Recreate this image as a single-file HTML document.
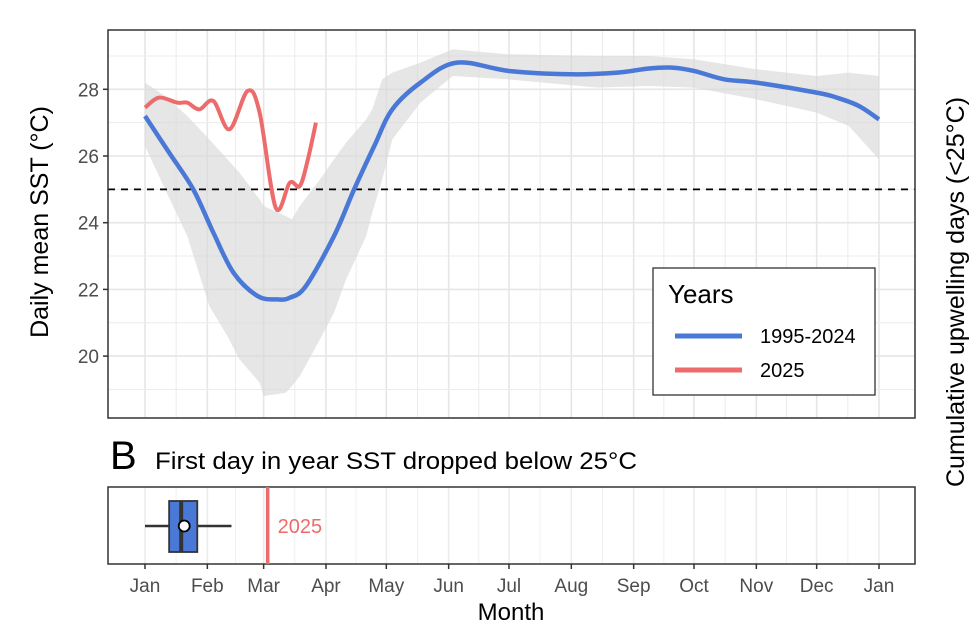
<!DOCTYPE html>
<html><head><meta charset="utf-8">
<style>
body{margin:0;background:#fff;}
svg{display:block;font-family:"Liberation Sans",Arial,sans-serif;}
</style></head>
<body>
<svg id="c" width="978" height="634" viewBox="0 0 978 634"></svg>
<script>
const monthLabels=["Jan","Feb","Mar","Apr","May","Jun","Jul","Aug","Sep","Oct","Nov","Dec","Jan"];
const monthDays=[0,31,59,90,120,151,181,212,243,273,304,334,365];
const yTicks=[20,22,24,26,28];
const blueDays=[0,12,24,34,44,56,66,72,80,94,104,114,123,137,155,181,212,235,250,262,273,288,304,334,344,355,365];
const blueVals=[27.2,26.1,25.0,23.7,22.5,21.8,21.7,21.75,22.1,23.6,25.0,26.3,27.4,28.2,28.8,28.55,28.45,28.5,28.62,28.65,28.55,28.3,28.2,27.9,27.75,27.5,27.1];
const redDays=[0,7,16,21,27,34,42,51,57,65,72,77,81,85];
const redVals=[27.45,27.75,27.6,27.6,27.4,27.65,26.8,27.95,27.3,24.45,25.2,25.1,25.9,27.0];
const ribDays=[0,10,21,32,41,47,57,59,70,73,77,87,94,100,110,113,118,123,137,153,180,225,250,273,304,334,350,365];
const ribUpper=[28.2,27.8,27.2,26.5,25.9,25.5,24.7,24.5,24.2,24.1,24.5,25.3,25.9,26.4,27.1,27.4,28.3,28.5,28.8,29.2,29.05,29.0,29.0,28.9,28.6,28.4,28.5,28.4];
const ribLower=[26.3,25.0,23.6,21.5,20.6,19.9,19.2,18.8,18.9,19.1,19.4,20.5,21.3,22.3,23.6,24.3,25.3,26.5,27.6,28.4,28.3,28.05,28.1,28.05,27.7,27.3,26.9,25.9];
const threshold=25;
const box={lo:0,q1:12,med:18,mean:19.5,q3:26,hi:43};
const firstDay2025=61;

const svg=document.getElementById('c');
const NS='http://www.w3.org/2000/svg';
function el(t,a,p){const e=document.createElementNS(NS,t);for(const k in a)e.setAttribute(k,a[k]);(p||svg).appendChild(e);return e;}
const X0=108,X1=915,T0=30,T1=418,B0=487,B1=564;
const xs=d=>145+d*(879-145)/365;
const ys=v=>89.3+(28-v)*33.35;
function smooth(pts){let d='M'+pts[0][0]+','+pts[0][1];for(let i=0;i<pts.length-1;i++){const p0=pts[i-1]||pts[i],p1=pts[i],p2=pts[i+1],p3=pts[i+2]||p2;d+=' C'+(p1[0]+(p2[0]-p0[0])/6)+','+(p1[1]+(p2[1]-p0[1])/6)+' '+(p2[0]-(p3[0]-p1[0])/6)+','+(p2[1]-(p3[1]-p1[1])/6)+' '+p2[0]+','+p2[1];}return d;}

for(let i=0;i<monthDays.length;i++){
  const x=xs(monthDays[i]);
  let g=el('line',{x1:x,x2:x,y1:T0,y2:T1,stroke:'#e6e6e6','stroke-width':1.6});
  
  el('line',{x1:x,x2:x,y1:B0,y2:B1,stroke:'#ececec','stroke-width':1.6});
  if(i<monthDays.length-1){const xm=xs((monthDays[i]+monthDays[i+1])/2);
    el('line',{x1:xm,x2:xm,y1:T0,y2:T1,stroke:'#ececec','stroke-width':1});
    el('line',{x1:xm,x2:xm,y1:B0,y2:B1,stroke:'#f0f0f0','stroke-width':1});}
}
for(let v=19;v<=29;v++){const y=ys(v);if(y<T0||y>T1)continue;
  el('line',{x1:X0,x2:X1,y1:y,y2:y,stroke:v%2?'#ececec':'#e6e6e6','stroke-width':v%2?1:1.6});}

const up=ribDays.map((d,i)=>[xs(d),ys(ribUpper[i])]);
const lo=ribDays.map((d,i)=>[xs(d),ys(ribLower[i])]).reverse();
let rp=el('path',{d:'M'+up.map(p=>p.join(',')).join(' L')+' L'+lo.map(p=>p.join(',')).join(' L')+'Z',fill:'#d9d9d9','fill-opacity':0.65});


let th=el('line',{x1:X0,x2:X1,y1:ys(threshold),y2:ys(threshold),stroke:'#000','stroke-width':1.8,'stroke-dasharray':'7,6'});


let bl=el('path',{d:smooth(blueDays.map((d,i)=>[xs(d),ys(blueVals[i])])),fill:'none',stroke:'#4a78d6','stroke-width':4.5});

let rl=el('path',{d:smooth(redDays.map((d,i)=>[xs(d),ys(redVals[i])])),fill:'none',stroke:'#ed6b6b','stroke-width':4,'stroke-linejoin':'round'});


el('rect',{x:X0,y:T0,width:X1-X0,height:T1-T0,fill:'none',stroke:'#333','stroke-width':1.5});
el('rect',{x:X0,y:B0,width:X1-X0,height:B1-B0,fill:'none',stroke:'#333','stroke-width':1.5});

yTicks.forEach(v=>{const y=ys(v);
  el('line',{x1:X0-5,x2:X0,y1:y,y2:y,stroke:'#333','stroke-width':1.5});
  const t=el('text',{x:X0-9,y:y+7,'text-anchor':'end','font-size':19,fill:'#4d4d4d'});t.textContent=v;
  });
monthDays.forEach((d,i)=>{const x=xs(d);
  el('line',{x1:x,x2:x,y1:B1,y2:B1+5,stroke:'#333','stroke-width':1.5});
  const t=el('text',{x:x,y:B1+28,'text-anchor':'middle','font-size':19,fill:'#4d4d4d'});t.textContent=monthLabels[i];
  });

let t;
t=el('text',{x:0,y:0,'font-size':25,fill:'#000','text-anchor':'middle',transform:'translate(48,222) rotate(-90)'});t.textContent='Daily mean SST (°C)';

t=el('text',{x:0,y:0,'font-size':25,fill:'#000','text-anchor':'middle',transform:'translate(964,292) rotate(-90)'});t.textContent='Cumulative upwelling days (<25°C)';

t=el('text',{x:511,y:620,'font-size':24,fill:'#000','text-anchor':'middle'});t.textContent='Month';

t=el('text',{x:110,y:469,'font-size':40,fill:'#000'});t.textContent='B';

t=el('text',{x:155,y:469,'font-size':24,fill:'#000',textLength:482,lengthAdjust:'spacingAndGlyphs'});t.textContent='First day in year SST dropped below 25°C';


const lg=el('g',{});
el('rect',{x:653,y:268,width:222,height:127,fill:'#fff',stroke:'#333','stroke-width':1.3},lg);
t=el('text',{x:668,y:303,'font-size':26,fill:'#000'},lg);t.textContent='Years';
el('line',{x1:675,x2:742,y1:336,y2:336,stroke:'#4a78d6','stroke-width':5},lg);
el('line',{x1:675,x2:742,y1:370,y2:370,stroke:'#ed6b6b','stroke-width':5},lg);
t=el('text',{x:760,y:343,'font-size':20,fill:'#000'},lg);t.textContent='1995-2024';

t=el('text',{x:760,y:377,'font-size':20,fill:'#000'},lg);t.textContent='2025';


const bx=el('g',{});
el('line',{x1:xs(box.lo),x2:xs(box.q1),y1:526,y2:526,stroke:'#333','stroke-width':2.5},bx);
el('line',{x1:xs(box.q3),x2:xs(box.hi),y1:526,y2:526,stroke:'#333','stroke-width':2.5},bx);
el('rect',{x:xs(box.q1),y:501,width:xs(box.q3)-xs(box.q1),height:51,fill:'#4a78d6',stroke:'#333','stroke-width':1.8},bx);
el('line',{x1:xs(box.med),x2:xs(box.med),y1:501,y2:552,stroke:'#333','stroke-width':4},bx);
el('circle',{cx:xs(box.mean),cy:526,r:5.5,fill:'#fff',stroke:'#000','stroke-width':1.8},bx);
let rv=el('line',{x1:xs(firstDay2025),x2:xs(firstDay2025),y1:B0,y2:B1,stroke:'#ed6b6b','stroke-width':3.5});

t=el('text',{x:xs(firstDay2025)+10,y:533,'font-size':20,fill:'#ed6b6b'});t.textContent='2025';

</script>
</body></html>
